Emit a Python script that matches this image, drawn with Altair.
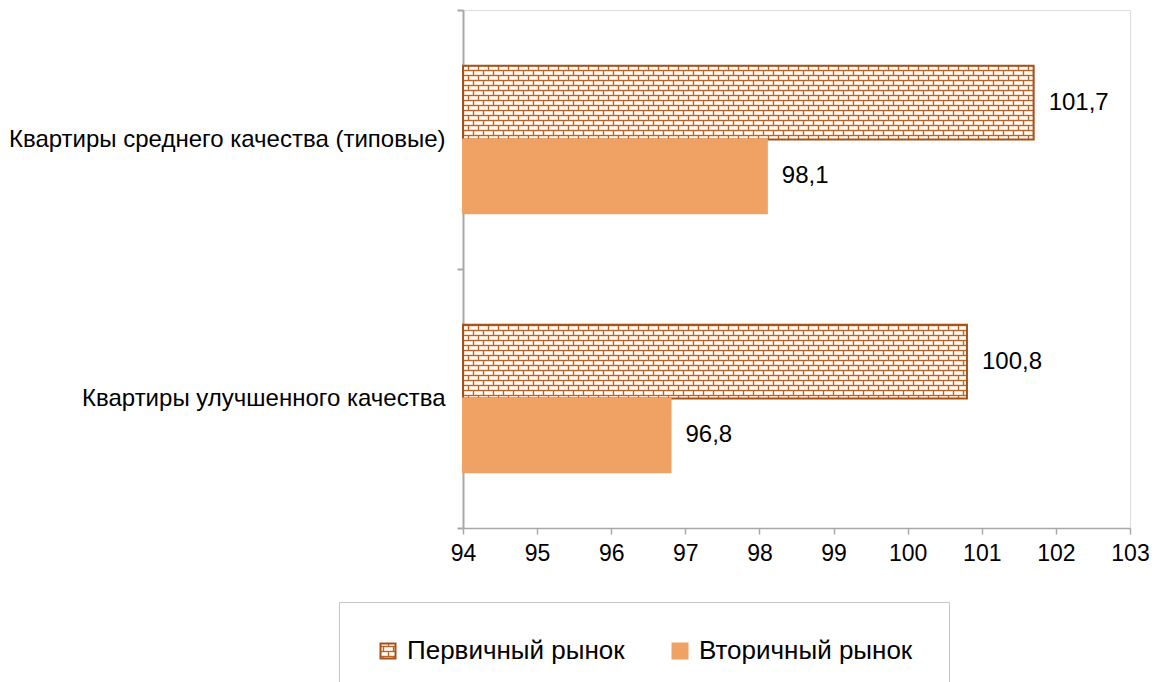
import altair as alt
import pandas as pd
import jinja2

categories = ["Квартиры среднего качества (типовые)", "Квартиры улучшенного качества"]
series = ["Первичный рынок", "Вторичный рынок"]
primary = [101.7, 100.8]
secondary = [98.1, 96.8]
x_ticks = list(range(94, 104))

rows = []
for c, p, s in zip(categories, primary, secondary):
    rows.append({"cat": c, "series": series[0], "value": p})
    rows.append({"cat": c, "series": series[1], "value": s})
df = pd.DataFrame(rows)

FONT = "Liberation Sans"
AXIS_COLOR = "#a8a8a8"
ORANGE = "#f0a264"
BROWN = "#a4521a"

y_enc = alt.Y(
    "cat:N",
    sort=categories,
    scale=alt.Scale(paddingInner=0, paddingOuter=0),
    axis=alt.Axis(
        title=None,
        tickBand="extent",
        tickSize=6,
        tickColor=AXIS_COLOR,
        tickWidth=2,
        domainColor=AXIS_COLOR,
        domainWidth=2,
        labelFont=FONT,
        labelFontSize=24,
        labelColor="#000000",
        labelPadding=12,
        labelLimit=600,
    ),
)
yoff = alt.YOffset("series:N", sort=series, scale=alt.Scale(paddingInner=0, paddingOuter=0.755))

x_enc = alt.X(
    "value:Q",
    scale=alt.Scale(domain=[94, 103], zero=False, nice=False),
    axis=alt.Axis(
        title=None,
        values=x_ticks,
        format="d",
        labelOverlap=False,
        labelFlush=False,
        grid=False,
        tickSize=6,
        tickColor=AXIS_COLOR,
        tickWidth=1.5,
        domainColor=AXIS_COLOR,
        domainWidth=1.5,
        labelFont=FONT,
        labelFontSize=23,
        labelColor="#000000",
        labelPadding=8,
    ),
)

bars = alt.Chart(df).mark_bar(strokeWidth=2).encode(
    y=y_enc,
    yOffset=yoff,
    x=x_enc,
    x2=alt.datum(94),
    fill=alt.Fill(
        "series:N",
        sort=series,
        scale=alt.Scale(domain=series, range=["url(#brick)", ORANGE]),
        legend=alt.Legend(
            title=None,
            orient="none",
            legendX=-124,
            legendY=592,
            direction="horizontal",
            padding=36,
            strokeColor="#c4c4c4",
            symbolType="square",
            symbolSize=225,
            symbolStrokeWidth=2,
            labelFont=FONT,
            labelFontSize=26,
            labelColor="#000000",
            labelOffset=6,
            columnPadding=42,
            labelLimit=400,
        ),
    ),
    stroke=alt.Stroke(
        "series:N",
        sort=series,
        scale=alt.Scale(domain=series, range=[BROWN, ORANGE]),
        legend=alt.Legend(title=None),
    ),
)

labels = alt.Chart(df).transform_calculate(
    label="replace(format(datum.value, '.1f'), '.', ',')"
).mark_text(
    align="left", baseline="middle", dx=15, font=FONT, fontSize=24, color="#000000"
).encode(
    y=alt.Y("cat:N", sort=categories),
    yOffset=alt.YOffset("series:N", sort=series),
    x=alt.X("value:Q"),
    text="label:N",
)

chart = alt.layer(bars, labels).properties(
    width=667,
    height=518,
    autosize=alt.AutoSizeParams(type="none"),
    padding={"left": 455, "top": 2, "right": 27, "bottom": 154},
).configure_view(strokeWidth=0).configure(background="white")

TEMPLATE = jinja2.Template("""<!DOCTYPE html>
<html>
<head>
<meta charset="utf-8">
<style>body { margin: 8px; overflow: hidden; background: white; }</style>
<script type="text/javascript" src="{{ base_url }}/vega@{{ vega_version }}"></script>
<script type="text/javascript" src="{{ base_url }}/vega-lite@{{ vegalite_version }}"></script>
<script type="text/javascript" src="{{ base_url }}/vega-embed@{{ vegaembed_version }}"></script>
</head>
<body>
<svg width="0" height="0" style="position:absolute">
  <defs>
    <pattern id="brick" patternUnits="userSpaceOnUse" x="0" y="0" width="10" height="10">
      <rect x="0" y="0" width="10" height="10" fill="#bb6428"/>
      <rect x="1" y="1" width="9" height="4" fill="#f0c8a8"/>
      <rect x="1.6" y="1.6" width="7.8" height="2.8" fill="#ffffff"/>
      <rect x="0" y="6" width="5" height="4" fill="#f0c8a8"/>
      <rect x="0" y="6.6" width="4.4" height="2.8" fill="#ffffff"/>
      <rect x="6" y="6" width="4" height="4" fill="#f0c8a8"/>
      <rect x="6.6" y="6.6" width="3.4" height="2.8" fill="#ffffff"/>
    </pattern>
  </defs>
</svg>
<div id="{{ output_div }}"></div>
<script type="text/javascript">
  var spec = {{ spec }};
  var embedOpt = {{ embed_options }};
  vegaEmbed("#{{ output_div }}", spec, embedOpt).catch(console.error);
</script>
</body>
</html>
""")

chart.save("out.html", embed_options={"renderer": "svg", "actions": False}, template=TEMPLATE)
